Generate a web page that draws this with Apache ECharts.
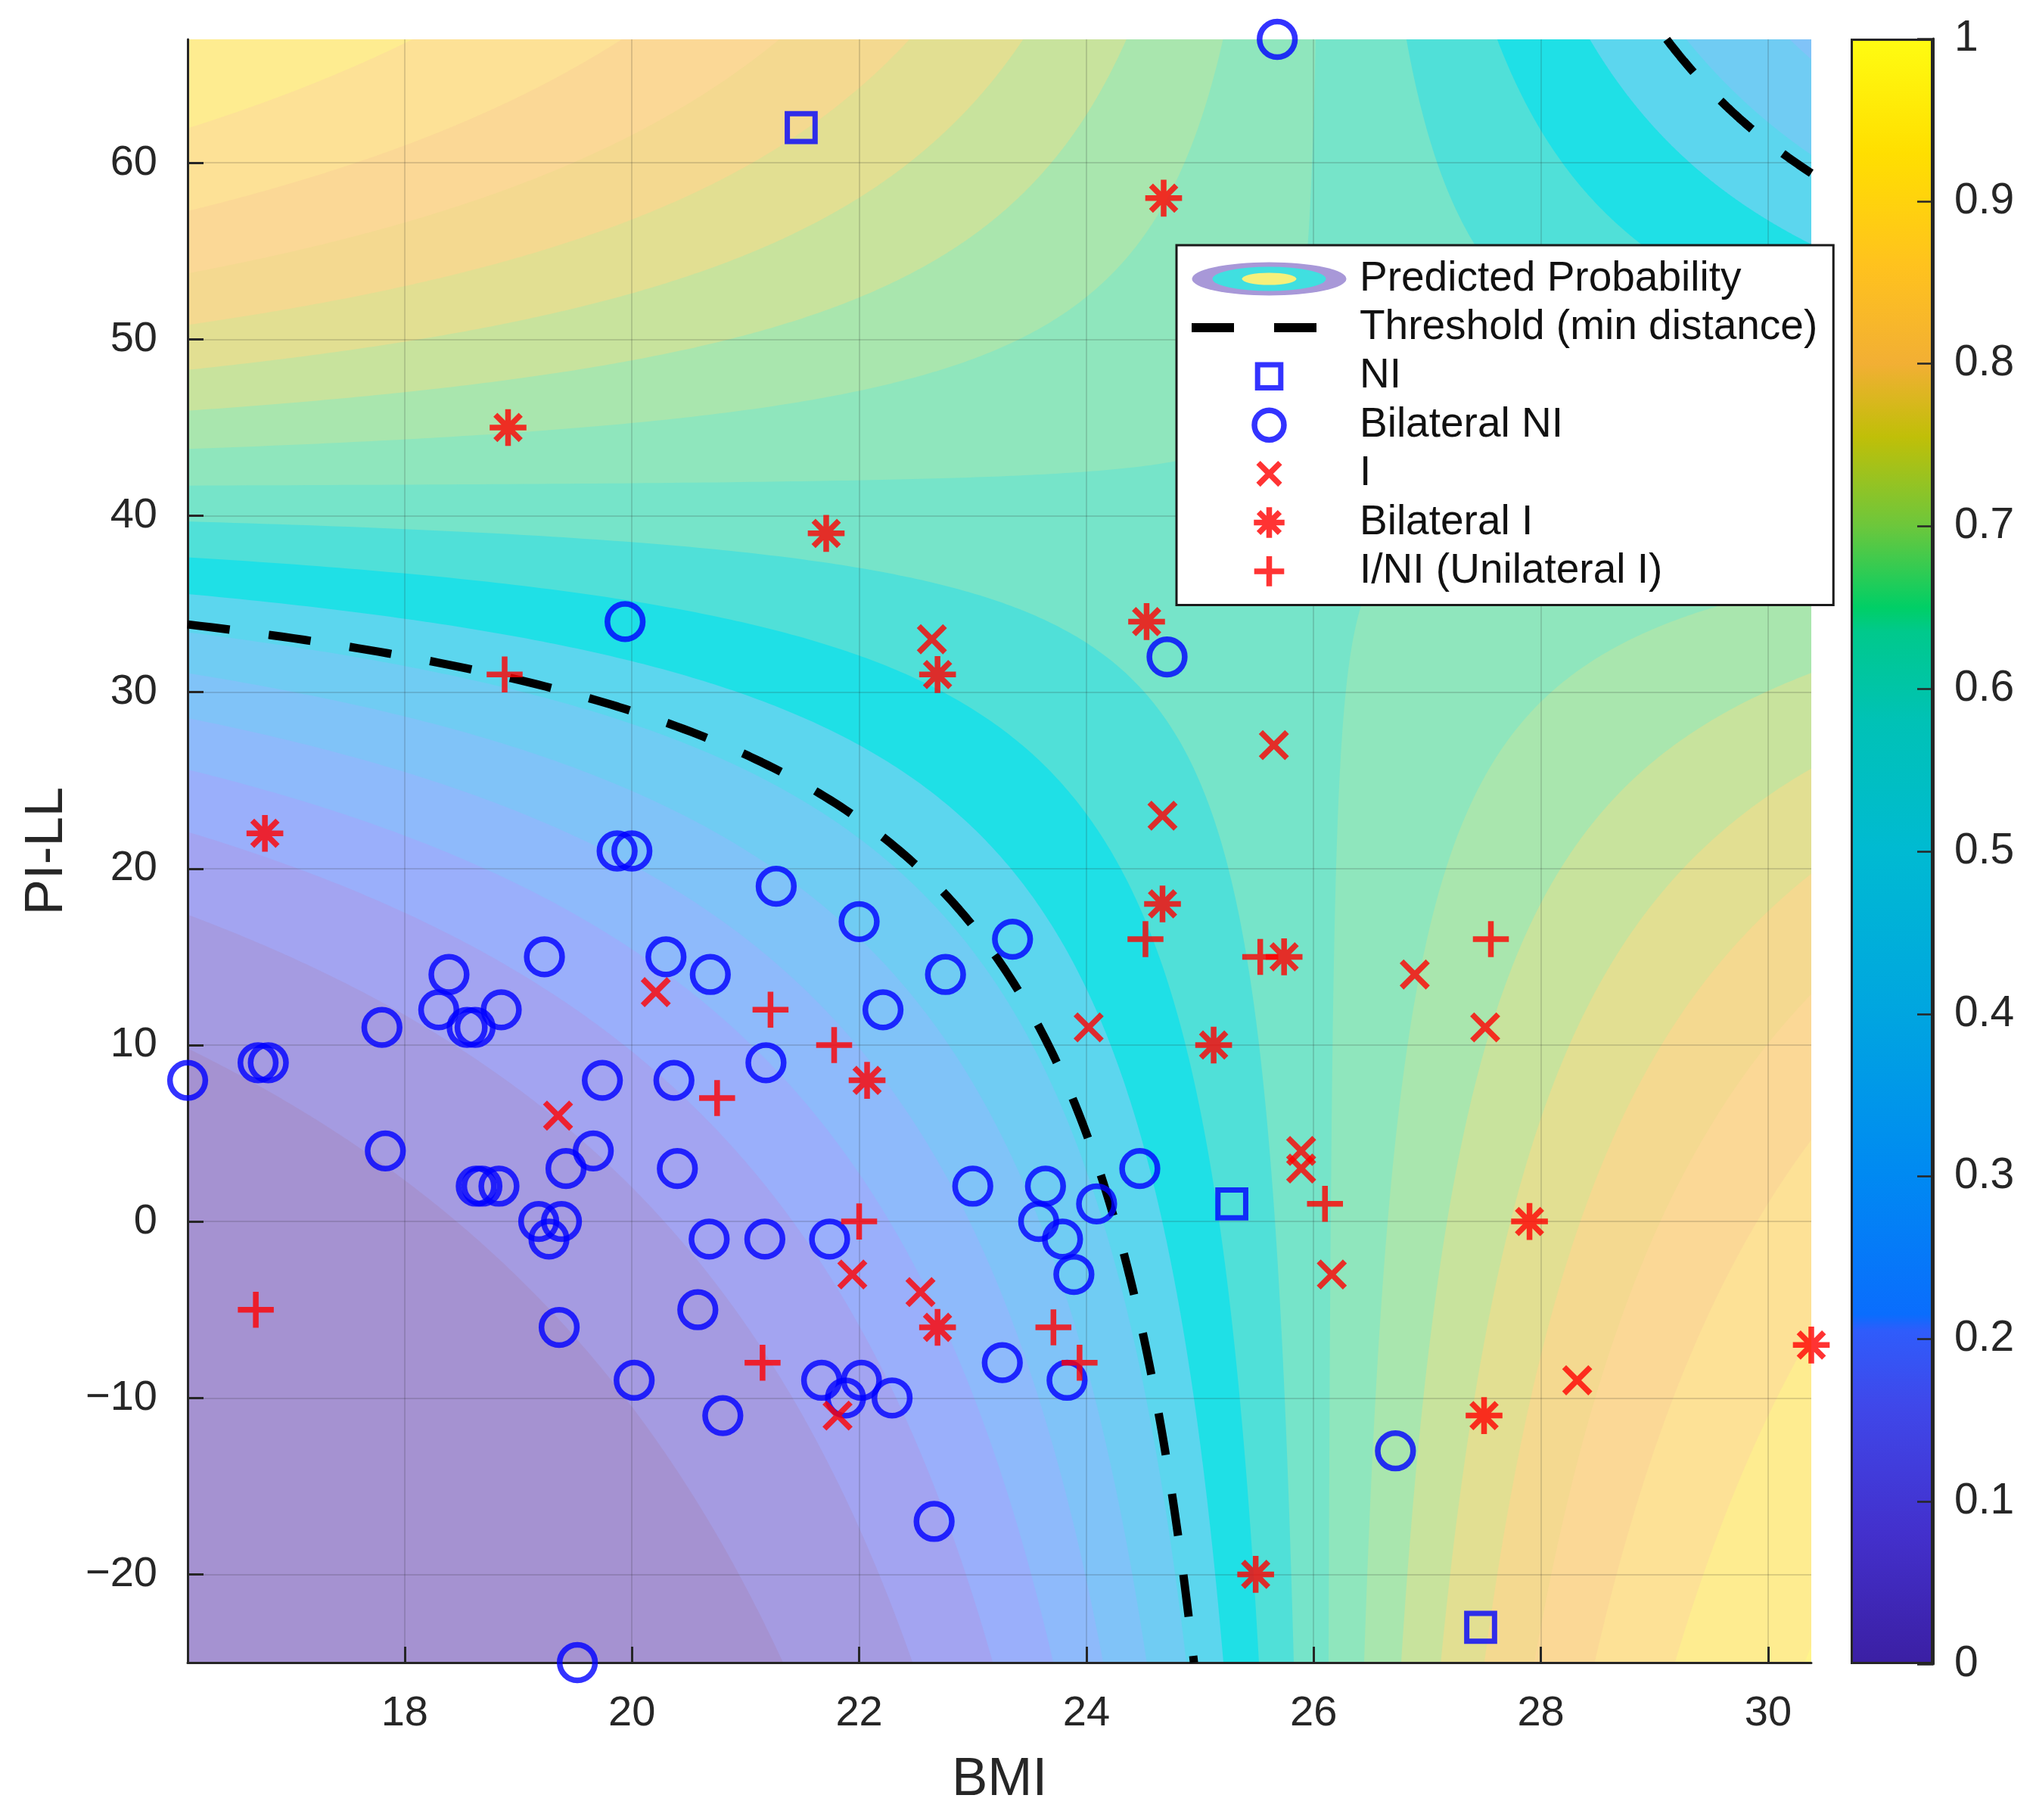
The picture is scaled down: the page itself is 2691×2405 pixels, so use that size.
<!DOCTYPE html>
<html>
<head>
<meta charset="utf-8">
<script src="https://cdn.jsdelivr.net/npm/echarts@6/dist/echarts.min.js"></script>
<style>
html,body{margin:0;padding:0;background:#ffffff;}
#chart{width:2691px;height:2405px;}
</style>
</head>
<body>
<div id="chart"></div>
<script>
// ===================== DATA =====================
// [BMI, PI-LL]
const niPoints = [[21.49,62],[25.28,1],[27.47,-23]];
const bilateralNiPoints = [
  [25.68,67],[19.94,34],[24.71,32],[19.87,21],[20.0,21],[21.27,19],[22.0,17],[23.35,16],
  [19.23,15],[20.3,15],[18.39,14],[20.69,14],[22.76,14],[18.3,12],[18.85,12],[22.21,12],
  [17.8,11],[18.55,11],[18.62,11],[16.71,9],[16.8,9],[21.18,9],[16.09,8],[19.74,8],[20.37,8],
  [17.83,4],[19.66,4],[19.42,3],[20.4,3],[24.47,3],[18.63,2],[18.68,2],[18.83,2],[23.0,2],
  [23.64,2],[24.09,1],[19.18,0],[19.38,0],[23.58,0],[19.27,-1],[20.68,-1],[21.17,-1],
  [21.74,-1],[23.79,-1],[23.89,-3],[20.58,-5],[19.36,-6],[23.26,-8],[20.02,-9],[21.67,-9],
  [22.02,-9],[23.83,-9],[21.88,-10],[22.29,-10],[20.8,-11],[26.72,-13],[22.66,-17],[19.52,-25]
];
const iPoints = [
  [22.64,33],[25.65,27],[24.67,23],[20.21,13],[26.89,14],[24.02,11],[27.51,11],[19.35,6],
  [25.89,4],[25.89,3],[21.94,-3],[26.16,-3],[22.54,-4],[28.32,-9],[21.81,-11]
];
const bilateralIPoints = [
  [24.68,58],[18.91,45],[21.71,39],[24.53,34],[22.69,31],[16.77,22],[24.67,18],[25.74,15],
  [25.12,10],[22.07,8],[27.9,0],[22.69,-6],[30.38,-7],[27.5,-11],[25.49,-20]
];
const iniPoints = [
  [18.88,31],[24.52,16],[25.53,15],[27.56,16],[21.22,12],[21.78,10],[20.75,7],[26.1,1],
  [22.0,0],[16.69,-5],[23.71,-6],[21.15,-8],[23.94,-8]
];

// Predicted-probability model (logit = k + d*(BMI-BMI0)*(PILL-PILL0))
const logitModel = [0.18, -0.00985, 26.1, 41.5];   // [k, d, BMI0, PILL0]
const thresholdProb = 0.36;
const contourLevels = [0.05,0.10,0.15,0.20,0.25,0.30,0.35,0.40,0.45,0.50,0.55,0.60,0.65,0.70,0.75,0.80,0.85,0.90,0.95];

// Axis ranges and ticks
const bmiRange = [16.09, 30.38];
const pillRange = [-25, 67];
const bmiTicks = [18,20,22,24,26,28,30];
const pillTicks = [-20,-10,0,10,20,30,40,50,60];

// ===================== STYLE =====================
const FONT = 'Liberation Sans, Arial, Helvetica, sans-serif';
const AX = '#262626';
const bandColors = [
  '#a592d1','#a59be1','#a3a4f1','#9aaffb','#8ebafb','#80c3f8','#70ccf3','#5cd6ee',
  '#1fe0e6','#50e0d8','#76e4c9','#8fe6bd','#a9e6ae','#c8e39d','#e2df92','#f4d990',
  '#fbd896','#fde196','#feec90','#fff48a'
];
const colorbarStops = [
  [0,'#3b1fa3'],[0.08,'#4330cc'],[0.16,'#3f48ea'],[0.205,'#2f5cfb'],[0.215,'#0a6dfd'],
  [0.3,'#0089f2'],[0.4,'#00a5e0'],[0.5,'#00bad2'],[0.58,'#00c2b6'],[0.635,'#00c98c'],
  [0.65,'#00cf66'],[0.7,'#6cc73c'],[0.755,'#c0bf08'],[0.8,'#f2af34'],[0.86,'#ffc21e'],
  [0.93,'#ffdf00'],[1,'#fffc12']
];

const MARKER_SIZE = 54;
const BOX = 'M0 0 M100 100 ';
const markerPaths = {
  square: 'path://' + BOX + 'M16 16 L84 16 L84 84 L16 84 Z',
  circle: 'path://' + BOX + 'M6.7 50 A43.3 43.3 0 1 1 93.3 50 A43.3 43.3 0 1 1 6.7 50 Z',
  cross: 'path://' + BOX + 'M18 18 L82 82 M82 18 L18 82',
  star: 'path://' + BOX + 'M50 5 L50 95 M5 50 L95 50 M19 19 L81 81 M81 19 L19 81',
  plus: 'path://' + BOX + 'M50 6 L50 94 M6 50 L94 50'
};

// ===================== MODEL HELPERS =====================
const [K, D, X0, Y0] = logitModel;
const logit = p => Math.log(p / (1 - p));
const pSaddle = 1 / (1 + Math.exp(-K));

// painting order for filled contour bands (nested regions, painter's algorithm)
const paintBase = [[-1]];
const paintBelow = contourLevels.filter(L => L < pSaddle).sort((a, b) => b - a).map(L => [L]);
const paintAbove = contourLevels.filter(L => L > pSaddle).sort((a, b) => a - b).map(L => [L]);
const paintData = paintBase.concat(paintBelow, paintAbove);

function branchPoints(sx, sy, Q, api) {
  const xFar = sx < 0 ? bmiRange[0] : bmiRange[1];
  const yFar = sy < 0 ? pillRange[0] : pillRange[1];
  const aMax = Math.abs(xFar - X0);
  const bMax = Math.abs(yFar - Y0);
  const aMin = Q / bMax;
  if (!(aMin < aMax)) return null;
  const pts = [];
  const N = 260;
  for (let i = 0; i <= N; i++) {
    const a = aMin * Math.pow(aMax / aMin, i / N);
    pts.push(api.coord([X0 + sx * a, Y0 + sy * Q / a]));
  }
  pts.push(api.coord([xFar, yFar]));
  return pts;
}

function renderBand(params, api) {
  const L = api.value(0);
  const cs = params.coordSys;
  if (L < 0) {
    const idx = Math.floor(pSaddle / 0.05);
    return { type: 'rect', shape: { x: cs.x, y: cs.y, width: cs.width, height: cs.height },
             style: { fill: bandColors[idx] } };
  }
  const P = (logit(L) - K) / D;
  const children = [];
  let color;
  if (L < pSaddle) {
    color = bandColors[Math.round(L / 0.05) - 1];
    [[-1, -1], [1, 1]].forEach(([sx, sy]) => {
      const pts = branchPoints(sx, sy, P, api);
      if (pts) children.push({ type: 'polygon', shape: { points: pts }, style: { fill: color } });
    });
  } else {
    color = bandColors[Math.round(L / 0.05)];
    [[-1, 1], [1, -1]].forEach(([sx, sy]) => {
      const pts = branchPoints(sx, sy, -P, api);
      if (pts) children.push({ type: 'polygon', shape: { points: pts }, style: { fill: color } });
    });
  }
  return { type: 'group', children };
}

// threshold contour (same model, level = thresholdProb)
const C = (logit(thresholdProb) - K) / D;
function thresholdBranch(sx, sy) {
  const xFar = sx < 0 ? bmiRange[0] : bmiRange[1];
  const yFar = sy < 0 ? pillRange[0] : pillRange[1];
  const aMax = Math.abs(xFar - X0);
  const aMin = C / Math.abs(yFar - Y0);
  const out = [];
  const N = 200;
  for (let i = 0; i <= N; i++) {
    const a = aMin * Math.pow(aMax / aMin, i / N);
    out.push([X0 + sx * a, Y0 + sy * C / a]);
  }
  return out;
}
const thresholdLower = thresholdBranch(-1, -1).reverse();   // from left edge down to bottom
const thresholdUpper = thresholdBranch(1, 1);                 // from top edge to right edge

// ===================== CHART =====================
const ellipseSvg = '<svg xmlns="http://www.w3.org/2000/svg" width="205" height="45" viewBox="0 0 205 45">' +
  '<ellipse cx="102.5" cy="22.5" rx="102" ry="22" fill="#a898d8"/>' +
  '<ellipse cx="102.5" cy="22.5" rx="75" ry="16" fill="#40dfe0"/>' +
  '<ellipse cx="102.5" cy="22.5" rx="36" ry="8" fill="#f6f07a"/></svg>';
const ellipseIcon = 'image://data:image/svg+xml;charset=utf-8,' + encodeURIComponent(ellipseSvg);
const dashIcon = 'path://M0 0 M205 45 M0 16.5 H56 V28.5 H0 Z M109 16.5 H165 V28.5 H109 Z';

const minusFmt = v => String(v).replace('-', '\u2212');

function scatter(name, data, symbol, color, bw) {
  return {
    type: 'scatter', name, data, symbol, symbolSize: MARKER_SIZE,
    itemStyle: { color: 'transparent', borderColor: color, borderWidth: bw },
    z: 5, clip: false, silent: true, animation: false
  };
}

const chart = echarts.init(document.getElementById('chart'), null, { renderer: 'canvas' });
chart.setOption({
  animation: false,
  backgroundColor: '#ffffff',
  textStyle: { fontFamily: FONT },
  grid: [
    { left: 248, top: 52, width: 2146, height: 2145 },
    { left: 2446, top: 51, width: 109, height: 2148 }
  ],
  xAxis: [
    {
      type: 'value', gridIndex: 0, min: bmiRange[0], max: bmiRange[1], z: 3,
      name: 'BMI', nameLocation: 'middle', nameGap: 120,
      nameTextStyle: { fontSize: 71, color: AX, fontFamily: FONT },
      axisLine: { show: true, onZero: false, lineStyle: { color: AX, width: 3 } },
      axisTick: { show: true, inside: true, length: 21, customValues: bmiTicks, lineStyle: { color: AX, width: 3 } },
      axisLabel: { customValues: bmiTicks, fontSize: 56, color: AX, margin: 40, fontFamily: FONT, formatter: minusFmt },
      splitLine: { show: true, lineStyle: { color: 'rgba(38,38,38,0.16)', width: 2 } }
    },
    { type: 'category', gridIndex: 1, data: ['cb'], show: false, boundaryGap: true }
  ],
  yAxis: [
    {
      type: 'value', gridIndex: 0, min: pillRange[0], max: pillRange[1], z: 3,
      name: 'PI-LL', nameLocation: 'middle', nameGap: 150, nameRotate: 90,
      nameTextStyle: { fontSize: 71, color: AX, fontFamily: FONT },
      axisLine: { show: true, onZero: false, lineStyle: { color: AX, width: 3 } },
      axisTick: { show: true, inside: true, length: 21, customValues: pillTicks, lineStyle: { color: AX, width: 3 } },
      axisLabel: { customValues: pillTicks, fontSize: 56, color: AX, margin: 40, fontFamily: FONT, formatter: minusFmt },
      splitLine: { show: true, lineStyle: { color: 'rgba(38,38,38,0.16)', width: 2 } }
    },
    {
      type: 'value', gridIndex: 1, min: 0, max: 1, interval: 0.1, position: 'right', z: 3,
      axisLine: { show: true, lineStyle: { color: AX, width: 3 } },
      axisTick: { show: true, inside: true, length: 21, lineStyle: { color: AX, width: 2.5 } },
      axisLabel: { fontSize: 57, color: AX, margin: 28, fontFamily: FONT },
      splitLine: { show: false }
    }
  ],
  legend: {
    orient: 'vertical', left: 1555, top: 324,
    padding: [17, 21, 17, 20], itemGap: 9.4, itemWidth: 205, itemHeight: 45,
    backgroundColor: '#ffffff', borderColor: '#1a1a1a', borderWidth: 3,
    textStyle: { fontFamily: FONT, fontSize: 55, color: '#111', lineHeight: 45, padding: [0, 0, 0, 12] },
    selectedMode: false, z: 10,
    data: [
      { name: 'Predicted Probability', icon: ellipseIcon },
      { name: 'Threshold (min distance)', icon: dashIcon, itemStyle: { color: '#000', borderWidth: 0 } },
      { name: 'NI', itemStyle: { borderWidth: 7 } },
      { name: 'Bilateral NI', itemStyle: { borderWidth: 7.5 } },
      { name: 'I', itemStyle: { borderWidth: 7.5 } },
      { name: 'Bilateral I', itemStyle: { borderWidth: 7.5 } },
      { name: 'I/NI (Unilateral I)', itemStyle: { borderWidth: 7.5 } }
    ]
  },
  series: [
    {
      type: 'custom', name: 'Predicted Probability', coordinateSystem: 'cartesian2d',
      xAxisIndex: 0, yAxisIndex: 0, data: paintData, renderItem: renderBand,
      z: 1, silent: true, animation: false
    },
    {
      type: 'line', name: 'Threshold (min distance)', xAxisIndex: 0, yAxisIndex: 0,
      data: thresholdLower, symbol: 'none', showSymbol: false, z: 4, silent: true,
      lineStyle: { color: '#000', width: 11, type: [56, 52], cap: 'butt' }, clip: true
    },
    {
      type: 'line', name: 'Threshold (min distance)', xAxisIndex: 0, yAxisIndex: 0,
      data: thresholdUpper, symbol: 'none', showSymbol: false, z: 4, silent: true,
      lineStyle: { color: '#000', width: 11, type: [56, 52], cap: 'butt' }, clip: true
    },
    scatter('NI', niPoints, markerPaths.square, '#0000ff', 7),
    scatter('Bilateral NI', bilateralNiPoints, markerPaths.circle, '#0000ff', 7.5),
    scatter('I', iPoints, markerPaths.cross, '#ff0000', 7.5),
    scatter('Bilateral I', bilateralIPoints, markerPaths.star, '#ff0000', 7.5),
    scatter('I/NI (Unilateral I)', iniPoints, markerPaths.plus, '#ff0000', 7.5),
    {
      type: 'bar', xAxisIndex: 1, yAxisIndex: 1, data: [1], barWidth: '100%', silent: true, z: 2,
      itemStyle: {
        color: { type: 'linear', x: 0, y: 1, x2: 0, y2: 0,
                 colorStops: colorbarStops.map(s => ({ offset: s[0], color: s[1] })) },
        borderColor: AX, borderWidth: 3
      }
    }
  ]
});
</script>
</body>
</html>
